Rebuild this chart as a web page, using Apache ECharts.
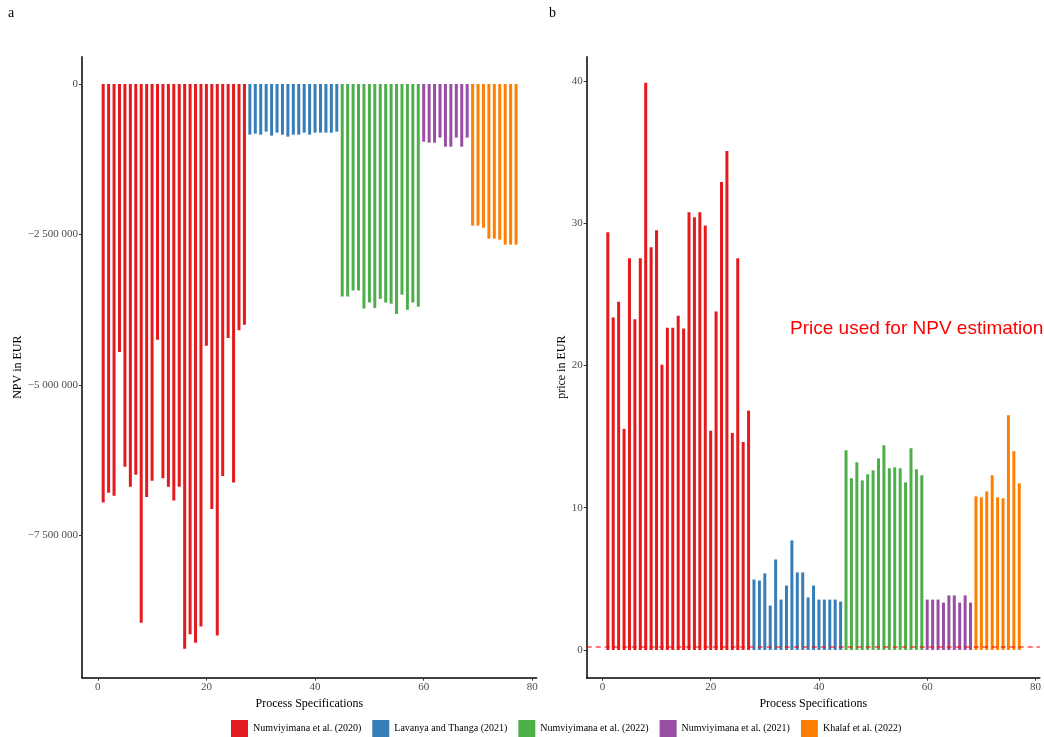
<!DOCTYPE html>
<html>
<head>
<meta charset="utf-8">
<script src="https://cdn.jsdelivr.net/npm/echarts@6/dist/echarts.min.js"></script>
<style>
html,body{margin:0;padding:0;background:#fff;}
#chart{width:1044px;height:737px;}
</style>
</head>
<body>
<div id="chart"></div>
<script>
const groupNames = ["Numviyimana et al. (2020)", "Lavanya and Thanga (2021)", "Numviyimana et al. (2022)", "Numviyimana et al. (2021)", "Khalaf et al. (2022)"];
const groupColors = ["#E41A1C", "#377EB8", "#4DAF4A", "#984EA3", "#FF7F00"];

const npv2020 = [-6950000, -6790000, -6840000, -4450000, -6360000, -6690000, -6490000, -8950000, -6860000, -6590000, -4250000, -6550000, -6690000, -6920000, -6690000, -9380000, -9140000, -9280000, -9010000, -4350000, -7060000, -9160000, -6510000, -4220000, -6620000, -4090000, -4000000];
const npvLavanya = [-842000, -825000, -842000, -792000, -858000, -808000, -842000, -875000, -842000, -842000, -808000, -842000, -808000, -808000, -808000, -808000, -792000];
const npv2022 = [-3530000, -3530000, -3430000, -3430000, -3730000, -3630000, -3720000, -3570000, -3630000, -3650000, -3820000, -3500000, -3750000, -3630000, -3700000];
const npv2021 = [-958000, -975000, -975000, -891000, -1041000, -1041000, -891000, -1041000, -891000];
const npvKhalaf = [-2353000, -2353000, -2387000, -2569000, -2569000, -2586000, -2669000, -2669000, -2669000];

const price2020 = [29.36, 23.37, 24.48, 15.54, 27.53, 23.24, 27.53, 39.87, 28.30, 29.50, 20.05, 22.65, 22.65, 23.50, 22.60, 30.77, 30.42, 30.77, 29.84, 15.41, 23.79, 32.89, 35.07, 15.25, 27.53, 14.62, 16.82];
const priceLavanya = [4.95, 4.88, 5.38, 3.12, 6.36, 3.54, 4.53, 7.70, 5.45, 5.45, 3.69, 4.53, 3.54, 3.54, 3.54, 3.54, 3.40];
const price2022 = [14.04, 12.07, 13.19, 11.92, 12.35, 12.63, 13.47, 14.39, 12.77, 12.84, 12.77, 11.78, 14.18, 12.70, 12.28];
const price2021 = [3.54, 3.54, 3.54, 3.33, 3.83, 3.83, 3.33, 3.83, 3.33];
const priceKhalaf = [10.80, 10.73, 11.15, 12.28, 10.73, 10.66, 16.50, 13.97, 11.71];

const xTicks = [0, 20, 40, 60, 80];
const npvTicks = [-7500000, -5000000, -2500000, 0];
const priceTicks = [0, 10, 20, 30, 40];
const referencePrice = 0.23;
const annotationText = "Price used for NPV estimation";

const npvGroups = [npv2020, npvLavanya, npv2022, npv2021, npvKhalaf];
const priceGroups = [price2020, priceLavanya, price2022, price2021, priceKhalaf];

const serif = "'Liberation Serif', 'DejaVu Serif', serif";

function withIndex(groups) {
  let offset = 0;
  return groups.map(g => {
    const d = g.map((v, i) => [offset + i + 1, v]);
    offset += g.length;
    return d;
  });
}
const npvData = withIndex(npvGroups);
const priceData = withIndex(priceGroups);

function fmtNum(v) {
  if (v === 0) return '0';
  const s = Math.abs(v).toFixed(0).replace(/\B(?=(\d{3})+(?!\d))/g, ' ');
  return (v < 0 ? '\u2212' : '') + s;
}

const axisLineStyle = { color: '#000', width: 1.5 };

function xAxisDef(gi) {
  return {
    type: 'value', gridIndex: gi, min: -2.9, max: 80.8,
    axisLine: { show: true, onZero: false, lineStyle: axisLineStyle },
    axisTick: { show: true, length: 3, customValues: xTicks, lineStyle: { color: '#333', width: 1 } },
    axisLabel: { customValues: xTicks, color: '#4D4D4D', fontFamily: serif, fontSize: 11, margin: 4 },
    splitLine: { show: false },
    name: 'Process Specifications', nameLocation: 'middle', nameGap: 18,
    nameTextStyle: { color: '#000', fontFamily: serif, fontSize: 12 }
  };
}

const series = [];
groupNames.forEach((name, k) => {
  series.push({
    name: name, type: 'bar', xAxisIndex: 0, yAxisIndex: 0,
    data: npvData[k], barWidth: 3, barGap: '-100%',
    itemStyle: { color: groupColors[k] }, animation: false
  });
});
groupNames.forEach((name, k) => {
  const s = {
    name: name, type: 'bar', xAxisIndex: 1, yAxisIndex: 1,
    data: priceData[k], barWidth: 3, barGap: '-100%',
    itemStyle: { color: groupColors[k] }, animation: false
  };
  if (k === 0) {
    s.markLine = {
      silent: true, symbol: 'none', animation: false,
      label: { show: false },
      lineStyle: { color: 'rgba(255,0,0,0.7)', type: [5, 4], width: 1.5 },
      data: [{ yAxis: referencePrice }]
    };
  }
  series.push(s);
});

const option = {
  animation: false,
  backgroundColor: '#fff',
  grid: [
    { left: 82, top: 56.7, width: 454.7, height: 621 },
    { left: 586.7, top: 56.7, width: 455.3, height: 621 }
  ],
  xAxis: [xAxisDef(0), xAxisDef(1)],
  yAxis: [
    {
      type: 'value', gridIndex: 0, min: -9862000, max: 453000,
      axisLine: { show: true, onZero: false, lineStyle: axisLineStyle },
      axisTick: { show: true, length: 3, customValues: npvTicks, lineStyle: { color: '#333', width: 1 } },
      axisLabel: { customValues: npvTicks, color: '#4D4D4D', fontFamily: serif, fontSize: 11, margin: 4, formatter: fmtNum },
      splitLine: { show: false },
      name: 'NPV in EUR', nameLocation: 'middle', nameGap: 56, nameRotate: 90,
      nameTextStyle: { color: '#000', fontFamily: serif, fontSize: 12 }
    },
    {
      type: 'value', gridIndex: 1, min: -1.95, max: 41.7,
      axisLine: { show: true, onZero: false, lineStyle: axisLineStyle },
      axisTick: { show: true, length: 3, customValues: priceTicks, lineStyle: { color: '#333', width: 1 } },
      axisLabel: { customValues: priceTicks, color: '#4D4D4D', fontFamily: serif, fontSize: 11, margin: 4 },
      splitLine: { show: false },
      name: 'price in EUR', nameLocation: 'middle', nameGap: 19, nameRotate: 90,
      nameTextStyle: { color: '#000', fontFamily: serif, fontSize: 12 }
    }
  ],
  legend: {
    data: groupNames, left: 226, top: 715, itemWidth: 17, itemHeight: 17, itemGap: 11,
    icon: 'rect',
    textStyle: { color: '#000', fontFamily: serif, fontSize: 10 }
  },
  graphic: [
    { type: 'text', left: 8, top: 6, style: { text: 'a', font: "14px 'Liberation Serif'", fill: '#000' } },
    { type: 'text', left: 549, top: 6, style: { text: 'b', font: "14px 'Liberation Serif'", fill: '#000' } },
    { type: 'text', left: 790, top: 319, style: { text: annotationText, font: "19px 'Liberation Sans'", fill: '#FF0000' } }
  ],
  series: series
};

const chart = echarts.init(document.getElementById('chart'), null, { renderer: 'canvas' });
chart.setOption(option);
</script>
</body>
</html>
